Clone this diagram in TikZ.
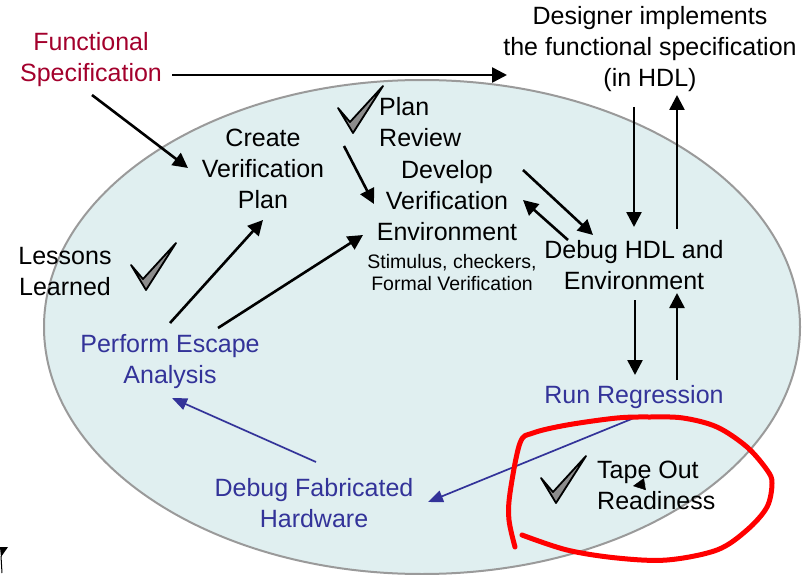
\documentclass[tikz,border=0pt]{standalone}
\usepackage{fontspec}
\setmainfont{Liberation Sans}
\usetikzlibrary{arrows.meta}
\definecolor{specred}{HTML}{A3002C}
\definecolor{flowblue}{HTML}{333399}
\definecolor{ovalfill}{HTML}{E0EFF0}
\definecolor{ovalline}{HTML}{9A9A9A}
\definecolor{tickgray}{HTML}{8C8C8C}

\tikzset{
  lbl/.style={font=\fontsize{25}{31}\selectfont, align=center, inner sep=0pt},
  smalllbl/.style={font=\fontsize{19.5}{22}\selectfont, align=center, inner sep=0pt},
  arr/.style={line width=2.6pt, -{Triangle[length=15pt,width=15pt]}},
  barr/.style={draw=flowblue, line width=1.7pt, -{Triangle[length=15pt,width=12pt]}, color=flowblue},
  tick/.pic={
    \filldraw[fill=tickgray, draw=black, line width=1.8pt, line join=round]
      (-14,-25) -- (-2,-11) -- (31,-47) -- (1,0) -- cycle;
  }
}

\begin{document}
\begin{tikzpicture}[x=1pt, y=-1pt]
\useasboundingbox (0,0) rectangle (811,575);

% the verification cycle oval
\filldraw[fill=ovalfill, draw=ovalline, line width=2pt] (422,327) ellipse [x radius=378, y radius=247];

% labels
\node[lbl, text=specred] (spec) at (91,60) {Functional\\Specification};
\node[lbl] (designer) at (650,49) {Designer implements\\the functional specification\\(in HDL)};
\node[lbl] (create) at (263,169) {Create\\Verification\\Plan};
\node[lbl, align=left, anchor=west] (review) at (379,122) {Plan\\Review};
\node[lbl] (develop) at (447,201) {Develop\\Verification\\Environment};
\node[smalllbl] (stim) at (452,273) {Stimulus, checkers,\\Formal Verification};
\node[lbl] (debughdl) at (634,265) {Debug HDL and\\Environment};
\node[lbl] (lessons) at (65,272) {Lessons\\Learned};
\node[lbl, text=flowblue] (escape) at (170,362) {Perform Escape\\Analysis};
\node[lbl, text=flowblue] (runreg) at (634,397) {Run Regression};
\node[lbl, text=flowblue] (fab) at (314,503) {Debug Fabricated\\Hardware};
\node[lbl, align=left, anchor=west] (tape) at (597,485) {Tape Out\\Readiness};

% check marks
\pic at (352,133) {tick};
\pic at (145,290) {tick};
\pic at (555,503) {tick};

% connector end points
\coordinate (specA) at (172,75);
\coordinate (desA) at (507,75);
\coordinate (specB) at (92,95);
\coordinate (createA) at (188,168);
\coordinate (reviewA) at (344,146);
\coordinate (devA) at (374,204);
\coordinate (escA) at (170,323);
\coordinate (createB) at (263,220);
\coordinate (escB) at (218,328);
\coordinate (devB) at (363,235);
\coordinate (devC) at (523,170);
\coordinate (hdlA) at (593,235);
\coordinate (hdlB) at (568,240);
\coordinate (devD) at (523,200);
\coordinate (desB) at (634,107);
\coordinate (hdlC) at (634,227);
\coordinate (hdlD) at (677,229);
\coordinate (desC) at (677,95);
\coordinate (hdlE) at (635,300);
\coordinate (runA) at (635,375);
\coordinate (runB) at (677,380);
\coordinate (hdlF) at (677,293);
\coordinate (runC) at (634,418);
\coordinate (fabA) at (428,502);
\coordinate (fabB) at (316,462);
\coordinate (escC) at (172,398);

% black flow arrows
\draw[arr] (specA) -- (desA);
\draw[arr] (specB) -- (createA);
\draw[arr] (reviewA) -- (devA);
\draw[arr] (escA) -- (createB);
\draw[arr] (escB) -- (devB);
\draw[arr] (devC) -- (hdlA);
\draw[arr] (hdlB) -- (devD);
\draw[arr] (desB) -- (hdlC);
\draw[arr] (hdlD) -- (desC);
\draw[arr] (hdlE) -- (runA);
\draw[arr] (runB) -- (hdlF);

% blue flow arrows
\draw[barr] (runC) -- (fabA);
\draw[barr] (fabB) -- (escC);

% small stray arrow tip inside the tape-out label
\coordinate (tapeA) at (645.5,484);
\coordinate (tapeB) at (633,486);
\draw[line width=0.5pt, -{Triangle[length=12pt,width=12pt]}] (tapeA) -- (tapeB);

% red hand-drawn loop around tape-out readiness
\draw[red, line width=5pt, line cap=round, line join=round]
  plot[smooth, tension=0.55] coordinates {
    (515,547) (509,520) (510,493) (520,443) (533,433) (567,425) (617,418)
    (650,417) (683,418) (717,427) (747,447) (767,470) (772,483) (767,507)
    (747,530) (717,550) (667,560) (617,558) (567,550) (522,535)};

% pointer fragment at the lower left corner
\fill (0,547) -- (8,547) -- (1,557) -- cycle;
\draw[line width=1pt] (1,556) -- (2,573);
\end{tikzpicture}
\end{document}
